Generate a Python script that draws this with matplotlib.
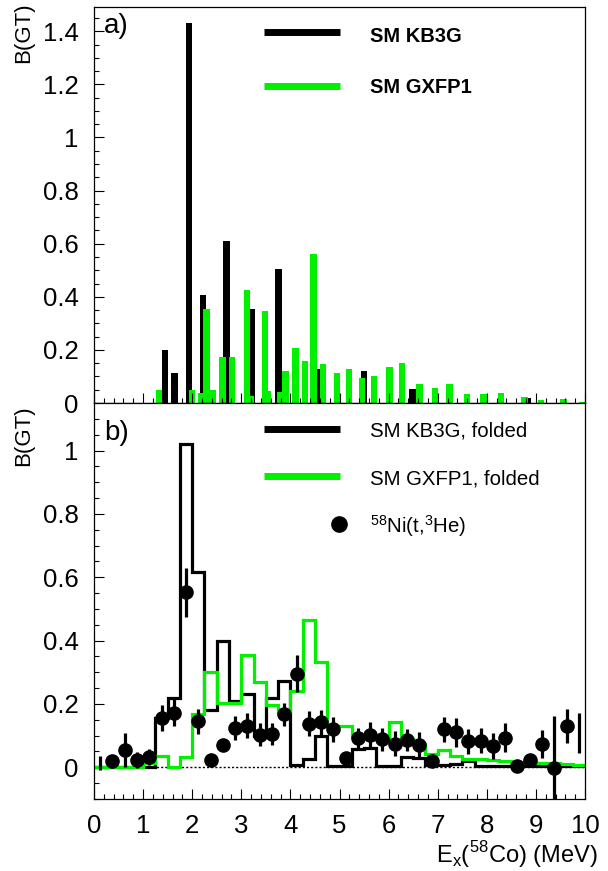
import numpy as np
import matplotlib
matplotlib.use("Agg")
import matplotlib.pyplot as plt
from matplotlib.ticker import MultipleLocator, FuncFormatter

plt.rcParams['font.family'] = ['Liberation Sans', 'DejaVu Sans']
plt.rcParams['mathtext.fontset'] = 'custom'
plt.rcParams['mathtext.rm'] = 'Liberation Sans'

# ---------------- data: panel a (discrete strengths) ----------------
kb3g_E = [1.45, 1.64, 1.93, 2.22, 2.70, 3.22, 3.76, 4.56, 5.50, 6.49, 8.83]
kb3g_B = [0.20, 0.114, 1.43, 0.407, 0.609, 0.353, 0.503, 0.127, 0.119, 0.054, 0.019]

gxfp1_E = [1.32, 1.99, 2.18, 2.29, 2.41, 2.62, 2.81, 3.12, 3.20, 3.48, 3.53,
           3.80, 3.90, 4.10, 4.30, 4.47, 4.67, 4.95, 5.19, 5.46, 5.70, 6.02,
           6.27, 6.63, 6.94, 7.24, 7.60, 7.93, 8.29, 8.77, 9.11, 9.56, 9.95]
gxfp1_B = [0.049, 0.049, 0.039, 0.353, 0.049, 0.174, 0.174, 0.425, 0.025, 0.347, 0.045,
           0.043, 0.12, 0.206, 0.157, 0.561, 0.147, 0.112, 0.128, 0.094, 0.102, 0.134,
           0.152, 0.072, 0.056, 0.072, 0.034, 0.034, 0.039, 0.021, 0.011, 0.015, 0.004]

# ---------------- data: panel b (folded, 0.25 MeV bins) ----------------
bin_edges = [i * 0.25 for i in range(41)]
kb3g_fold = [0, 0, 0, 0, 0,
             0.155, 0.218, 1.02, 0.616, 0.18, 0.40, 0.21, 0.23, 0.10, 0.22, 0.274,
             0.008, 0.026, 0.098, 0.005, 0.005, 0.058, 0.06, 0.005, 0.003, 0.033,
             0.028, 0.008, 0.006, 0.012, 0.02, 0.004,
             0.003, 0.003, 0.003, 0.003, 0.003, 0.003, 0.003, 0.003]
gxfp1_fold = [0, 0, 0, 0,
              0.014, 0.035, 0.0, 0.033, 0.169, 0.302, 0.203, 0.203, 0.356, 0.27,
              0.197, 0.175, 0.241, 0.464, 0.333, 0.132, 0.132, 0.10, 0.10, 0.09,
              0.142, 0.09, 0.075, 0.043, 0.056, 0.035, 0.027, 0.026, 0.022, 0.02,
              0.018, 0.016, 0.014, 0.013, 0.012, 0.007]

data_E = [0.125 + 0.25 * i for i in range(40)]
data_B = [0.015, 0.019, 0.055, 0.024, 0.032, 0.156, 0.172, 0.553, 0.145, 0.024,
          0.072, 0.124, 0.132, 0.103, 0.105, 0.168, 0.296, 0.138, 0.142, 0.12,
          0.03, 0.093, 0.103, 0.088, 0.075, 0.085, 0.071, 0.02, 0.12, 0.11,
          0.082, 0.084, 0.067, 0.094, 0.003, 0.024, 0.073, -0.002, 0.13, 0.108]
data_err = [0.022, 0.02, 0.054, 0.025, 0.025, 0.041, 0.043, 0.077, 0.04, 0.01,
            0.01, 0.038, 0.04, 0.036, 0.036, 0.036, 0.058, 0.04, 0.04, 0.04,
            0.01, 0.032, 0.04, 0.035, 0.04, 0.035, 0.04, 0.02, 0.04, 0.045,
            0.04, 0.04, 0.04, 0.045, 0.01, 0.015, 0.045, 0.165, 0.053, 0.063]
data_marker = [False] + [True] * 38 + [False]

GREEN = '#00f000'
TICKFS = 18.5

fig = plt.figure(figsize=(6.08, 8.71), dpi=100)
W, H = 608, 871
def rect(l, t, r, b):
    return [l / W, 1 - b / H, (r - l) / W, (b - t) / H]

axa = fig.add_axes(rect(94, 7, 585, 403))
axb = fig.add_axes(rect(94, 403, 585, 799))

fmt = FuncFormatter(lambda v, p: ('%g' % round(v, 3)))
for ax in (axa, axb):
    ax.set_xlim(0, 10)
    ax.xaxis.set_major_locator(MultipleLocator(1))
    ax.xaxis.set_minor_locator(MultipleLocator(0.2))
    ax.yaxis.set_major_locator(MultipleLocator(0.2))
    ax.yaxis.set_minor_locator(MultipleLocator(0.05))
    ax.yaxis.set_major_formatter(fmt)
    ax.tick_params(which='both', direction='in', top=False, right=False, width=0.8,
                   labelsize=TICKFS)
    ax.tick_params(which='major', length=7)
    ax.tick_params(which='minor', length=3.5)
    ax.tick_params(axis='y', pad=11)
    ax.tick_params(axis='x', pad=11)
    for s in ax.spines.values():
        s.set_linewidth(0.9)

# ---- panel a ----
axa.set_ylim(0, 1.4915)
axa.bar(kb3g_E, kb3g_B, width=0.13, color='black', zorder=1)
axa.bar(gxfp1_E, gxfp1_B, width=0.13, color=GREEN, zorder=1.1)
axa.tick_params(axis='x', labelbottom=False)
axa.text(0.02, 0.985, 'a)', transform=axa.transAxes, fontsize=20, va='top', ha='left')
axa.plot([0.346, 0.501], [0.937, 0.937], transform=axa.transAxes, color='black', lw=5,
         solid_capstyle='butt')
axa.plot([0.346, 0.501], [0.80, 0.80], transform=axa.transAxes, color=GREEN, lw=5,
         solid_capstyle='butt')
axa.text(0.562, 0.912, 'SM KB3G', transform=axa.transAxes, fontsize=14.5,
         fontweight='bold', va='baseline')
axa.text(0.562, 0.784, 'SM GXFP1', transform=axa.transAxes, fontsize=14.5,
         fontweight='bold', va='baseline')

# ---- panel b ----
axb.set_ylim(-0.1, 1.15)
axb.axhline(0, color='black', ls=(0, (1.5, 1.5)), lw=1, zorder=1)
axb.stairs(kb3g_fold, bin_edges, color='black', lw=2.3, zorder=2)
axb.stairs(gxfp1_fold, bin_edges, color=GREEN, lw=2.3, zorder=2.1)
E = np.array(data_E); B = np.array(data_B); Er = np.array(data_err)
m = np.array(data_marker)
axb.errorbar(E[m], B[m], yerr=Er[m], fmt='o', color='black', ms=9.5,
             elinewidth=2.3, capsize=0, zorder=3)
axb.errorbar(E[~m], B[~m], yerr=Er[~m], fmt='none', ecolor='black',
             elinewidth=2.3, capsize=0, zorder=3)
axb.text(0.02, 0.957, 'b)', transform=axb.transAxes, fontsize=20, va='top', ha='left')
axb.plot([0.346, 0.501], [0.934, 0.934], transform=axb.transAxes, color='black', lw=5,
         solid_capstyle='butt')
axb.plot([0.346, 0.501], [0.816, 0.816], transform=axb.transAxes, color=GREEN, lw=5,
         solid_capstyle='butt')
axb.plot([0.499], [0.694], transform=axb.transAxes, marker='o', color='black', ms=11)
axb.text(0.562, 0.915, 'SM KB3G, folded', transform=axb.transAxes, fontsize=14.7,
         va='baseline')
axb.text(0.562, 0.793, 'SM GXFP1, folded', transform=axb.transAxes, fontsize=14.7,
         va='baseline')
axb.text(0.562, 0.672, r'$^{\mathregular{58}}$Ni(t,$^{\mathregular{3}}$He)',
         transform=axb.transAxes, fontsize=14.7, va='baseline')

fig.text(24 / W, 1 - 2 / H, 'B(GT)', rotation=90, ha='center', va='top', fontsize=16)
fig.text(24 / W, 1 - 405 / H, 'B(GT)', rotation=90, ha='center', va='top', fontsize=16)
fig.text(598 / W, 1 - 855 / H, r'E$_{\mathregular{x}}$($^{\mathregular{58}}$Co) (MeV)',
         ha='right', va='center', fontsize=17)

fig.savefig('out.png', dpi=100)
